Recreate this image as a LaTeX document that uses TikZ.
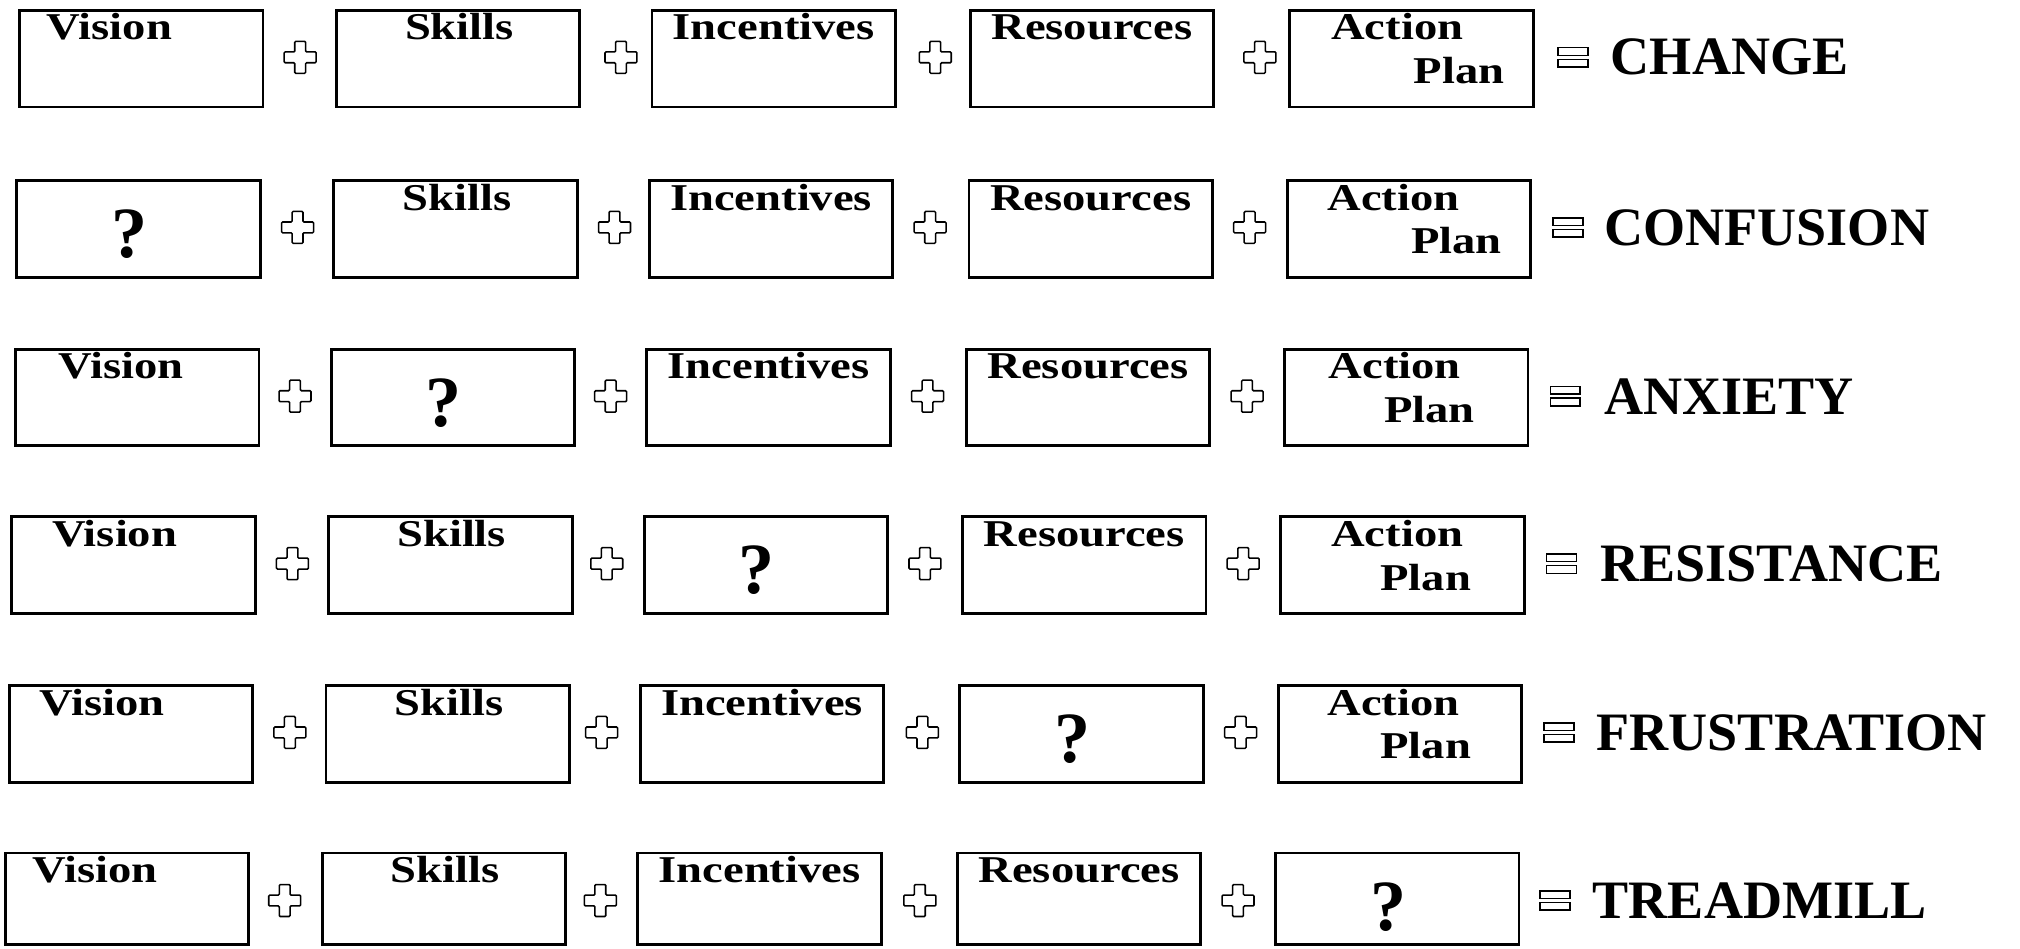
\documentclass[tikz,border=0pt]{standalone}
\usepackage{fontspec}
\setmainfont{Liberation Serif}
\newfontfamily\lblfont{Liberation Serif}[FakeStretch=1.23]
\usetikzlibrary{calc}
\tikzset{
  bx/.style={draw, line width=1.1pt, minimum width=94.5pt, minimum height=37.5pt, inner sep=0pt, anchor=north west},
  bxs/.style={bx, minimum height=35.5pt},
  lbl/.style={font=\lblfont\bfseries\fontsize{14.7}{16}\selectfont, inner sep=0pt},
  qm/.style={font=\bfseries\fontsize{28}{30}\selectfont, inner sep=0pt, anchor=base},
  res/.style={font=\bfseries\fontsize{21}{24}\selectfont, inner sep=0pt, anchor=west},
  plusnode/.style={minimum size=14pt, inner sep=0pt, path picture={
    \draw[line width=0.6pt, rounded corners=0.4pt]
      ($(path picture bounding box.center)+(-2.1pt,-6.2pt)$) -- ++(4.2pt,0pt) -- ++(0pt,4.1pt) -- ++(4.1pt,0pt)
      -- ++(0pt,4.2pt) -- ++(-4.1pt,0pt) -- ++(0pt,4.1pt) -- ++(-4.2pt,0pt) -- ++(0pt,-4.1pt)
      -- ++(-4.1pt,0pt) -- ++(0pt,-4.2pt) -- ++(4.1pt,0pt) -- cycle;}},
  eqnode/.style={minimum size=14pt, inner sep=0pt, path picture={
    \draw[line width=0.6pt]
      ($(path picture bounding box.center)+(-5.8pt,0.75pt)$) rectangle ++(11.6pt,3pt)
      ($(path picture bounding box.center)+(-5.8pt,-0.75pt)$) rectangle ++(11.6pt,-3pt);}}
}
\begin{document}
\begin{tikzpicture}[x=0.5pt,y=-0.5pt]
\useasboundingbox (0,0) rectangle (1568,736);

% ---------- Row 1 : CHANGE ----------
\node[bx] (r1b1) at (14,7) {};
\node[bx] (r1b2) at (260,7) {};
\node[bx] (r1b3) at (505,7) {};
\node[bx] (r1b4) at (752,7) {};
\node[bx] (r1b5) at (1000,7) {};
\node[lbl, anchor=base west] (r1t1) at ($(r1b1.north west)+(22,24)$) {Vision};
\node[lbl, anchor=base] (r1t2) at ($(r1b2.north)+(1,24)$) {Skills};
\node[lbl, anchor=base] (r1t3) at ($(r1b3.north)+(0,24)$) {Incentives};
\node[lbl, anchor=base] (r1t4) at ($(r1b4.north)+(0,24)$) {Resources};
\node[lbl, anchor=base west] (r1t5) at ($(r1b5.north west)+(33,24)$) {Action};
\node[lbl, anchor=base east] (r1t6) at ($(r1b5.north east)+(-23,58)$) {Plan};
\node[plusnode] (r1p1) at (233,44.5) {};
\node[plusnode] (r1p2) at (482,44.5) {};
\node[plusnode] (r1p3) at (726,44.5) {};
\node[plusnode] (r1p4) at (978,44.5) {};
\node[eqnode] (r1eq) at (1221,44.5) {};
\node[res] (r1res) at (1250,44.5) {CHANGE};

% ---------- Row 2 : CONFUSION ----------
\node[bx] (r2b1) at (12,139) {};
\node[bx] (r2b2) at (258,139) {};
\node[bx] (r2b3) at (503,139) {};
\node[bx] (r2b4) at (751,139) {};
\node[bx] (r2b5) at (998,139) {};
\node[qm] (r2t1) at ($(r2b1.north)+(-7,61)$) {?};
\node[lbl, anchor=base] (r2t2) at ($(r2b2.north)+(1,24)$) {Skills};
\node[lbl, anchor=base] (r2t3) at ($(r2b3.north)+(0,24)$) {Incentives};
\node[lbl, anchor=base] (r2t4) at ($(r2b4.north)+(0,24)$) {Resources};
\node[lbl, anchor=base west] (r2t5) at ($(r2b5.north west)+(32,24)$) {Action};
\node[lbl, anchor=base east] (r2t6) at ($(r2b5.north east)+(-23,58)$) {Plan};
\node[plusnode] (r2p1) at (231,176.5) {};
\node[plusnode] (r2p2) at (477,176.5) {};
\node[plusnode] (r2p3) at (722,176.5) {};
\node[plusnode] (r2p4) at (970,176.5) {};
\node[eqnode] (r2eq) at (1217,176.5) {};
\node[res] (r2res) at (1245,176.5) {CONFUSION};

% ---------- Row 3 : ANXIETY ----------
\node[bx] (r3b1) at (11,270) {};
\node[bx] (r3b2) at (256,270) {};
\node[bx] (r3b3) at (501,270) {};
\node[bx] (r3b4) at (749,270) {};
\node[bx] (r3b5) at (996,270) {};
\node[lbl, anchor=base west] (r3t1) at ($(r3b1.north west)+(34,24)$) {Vision};
\node[qm] (r3t2) at ($(r3b2.north)+(-7,61)$) {?};
\node[lbl, anchor=base] (r3t3) at ($(r3b3.north)+(0,24)$) {Incentives};
\node[lbl, anchor=base] (r3t4) at ($(r3b4.north)+(0,24)$) {Resources};
\node[lbl, anchor=base west] (r3t5) at ($(r3b5.north west)+(35,24)$) {Action};
\node[lbl, anchor=base east] (r3t6) at ($(r3b5.north east)+(-42,58)$) {Plan};
\node[plusnode] (r3p1) at (229,307.5) {};
\node[plusnode] (r3p2) at (474,307.5) {};
\node[plusnode] (r3p3) at (720,307.5) {};
\node[plusnode] (r3p4) at (968,307.5) {};
\node[eqnode] (r3eq) at (1215,307.5) {};
\node[res] (r3res) at (1245,307.5) {ANXIETY};

% ---------- Row 4 : RESISTANCE ----------
\node[bx] (r4b1) at (8,400) {};
\node[bx] (r4b2) at (254,400) {};
\node[bx] (r4b3) at (499,400) {};
\node[bx] (r4b4) at (746,400) {};
\node[bx] (r4b5) at (993,400) {};
\node[lbl, anchor=base west] (r4t1) at ($(r4b1.north west)+(32,24)$) {Vision};
\node[lbl, anchor=base] (r4t2) at ($(r4b2.north)+(1,24)$) {Skills};
\node[qm] (r4t3) at ($(r4b3.north)+(-7,61)$) {?};
\node[lbl, anchor=base] (r4t4) at ($(r4b4.north)+(0,24)$) {Resources};
\node[lbl, anchor=base west] (r4t5) at ($(r4b5.north west)+(40,24)$) {Action};
\node[lbl, anchor=base east] (r4t6) at ($(r4b5.north east)+(-42,58)$) {Plan};
\node[plusnode] (r4p1) at (227,437.5) {};
\node[plusnode] (r4p2) at (471,437.5) {};
\node[plusnode] (r4p3) at (718,437.5) {};
\node[plusnode] (r4p4) at (965,437.5) {};
\node[eqnode] (r4eq) at (1212,437.5) {};
\node[res] (r4res) at (1242,437.5) {RESISTANCE};

% ---------- Row 5 : FRUSTRATION ----------
\node[bx] (r5b1) at (6,531) {};
\node[bx] (r5b2) at (252,531) {};
\node[bx] (r5b3) at (496,531) {};
\node[bx] (r5b4) at (744,531) {};
\node[bx] (r5b5) at (991,531) {};
\node[lbl, anchor=base west] (r5t1) at ($(r5b1.north west)+(24,24)$) {Vision};
\node[lbl, anchor=base] (r5t2) at ($(r5b2.north)+(1,24)$) {Skills};
\node[lbl, anchor=base] (r5t3) at ($(r5b3.north)+(0,24)$) {Incentives};
\node[qm] (r5t4) at ($(r5b4.north)+(-7,61)$) {?};
\node[lbl, anchor=base west] (r5t5) at ($(r5b5.north west)+(39,24)$) {Action};
\node[lbl, anchor=base east] (r5t6) at ($(r5b5.north east)+(-40,58)$) {Plan};
\node[plusnode] (r5p1) at (225,568.5) {};
\node[plusnode] (r5p2) at (467,568.5) {};
\node[plusnode] (r5p3) at (716,568.5) {};
\node[plusnode] (r5p4) at (963,568.5) {};
\node[eqnode] (r5eq) at (1210,568.5) {};
\node[res] (r5res) at (1239,568.5) {FRUSTRATION};

% ---------- Row 6 : TREADMILL ----------
\node[bxs] (r6b1) at (3,661) {};
\node[bxs] (r6b2) at (249,661) {};
\node[bxs] (r6b3) at (494,661) {};
\node[bxs] (r6b4) at (742,661) {};
\node[bxs] (r6b5) at (989,661) {};
\node[lbl, anchor=base west] (r6t1) at ($(r6b1.north west)+(22,24)$) {Vision};
\node[lbl, anchor=base] (r6t2) at ($(r6b2.north)+(1,24)$) {Skills};
\node[lbl, anchor=base] (r6t3) at ($(r6b3.north)+(0,24)$) {Incentives};
\node[lbl, anchor=base] (r6t4) at ($(r6b4.north)+(0,24)$) {Resources};
\node[qm] (r6t5) at ($(r6b5.north)+(-7,61)$) {?};
\node[plusnode] (r6p1) at (221,699) {};
\node[plusnode] (r6p2) at (466,699) {};
\node[plusnode] (r6p3) at (714,699) {};
\node[plusnode] (r6p4) at (961,699) {};
\node[eqnode] (r6eq) at (1207,699) {};
\node[res] (r6res) at (1236,699) {TREADMILL};
\end{tikzpicture}
\end{document}
